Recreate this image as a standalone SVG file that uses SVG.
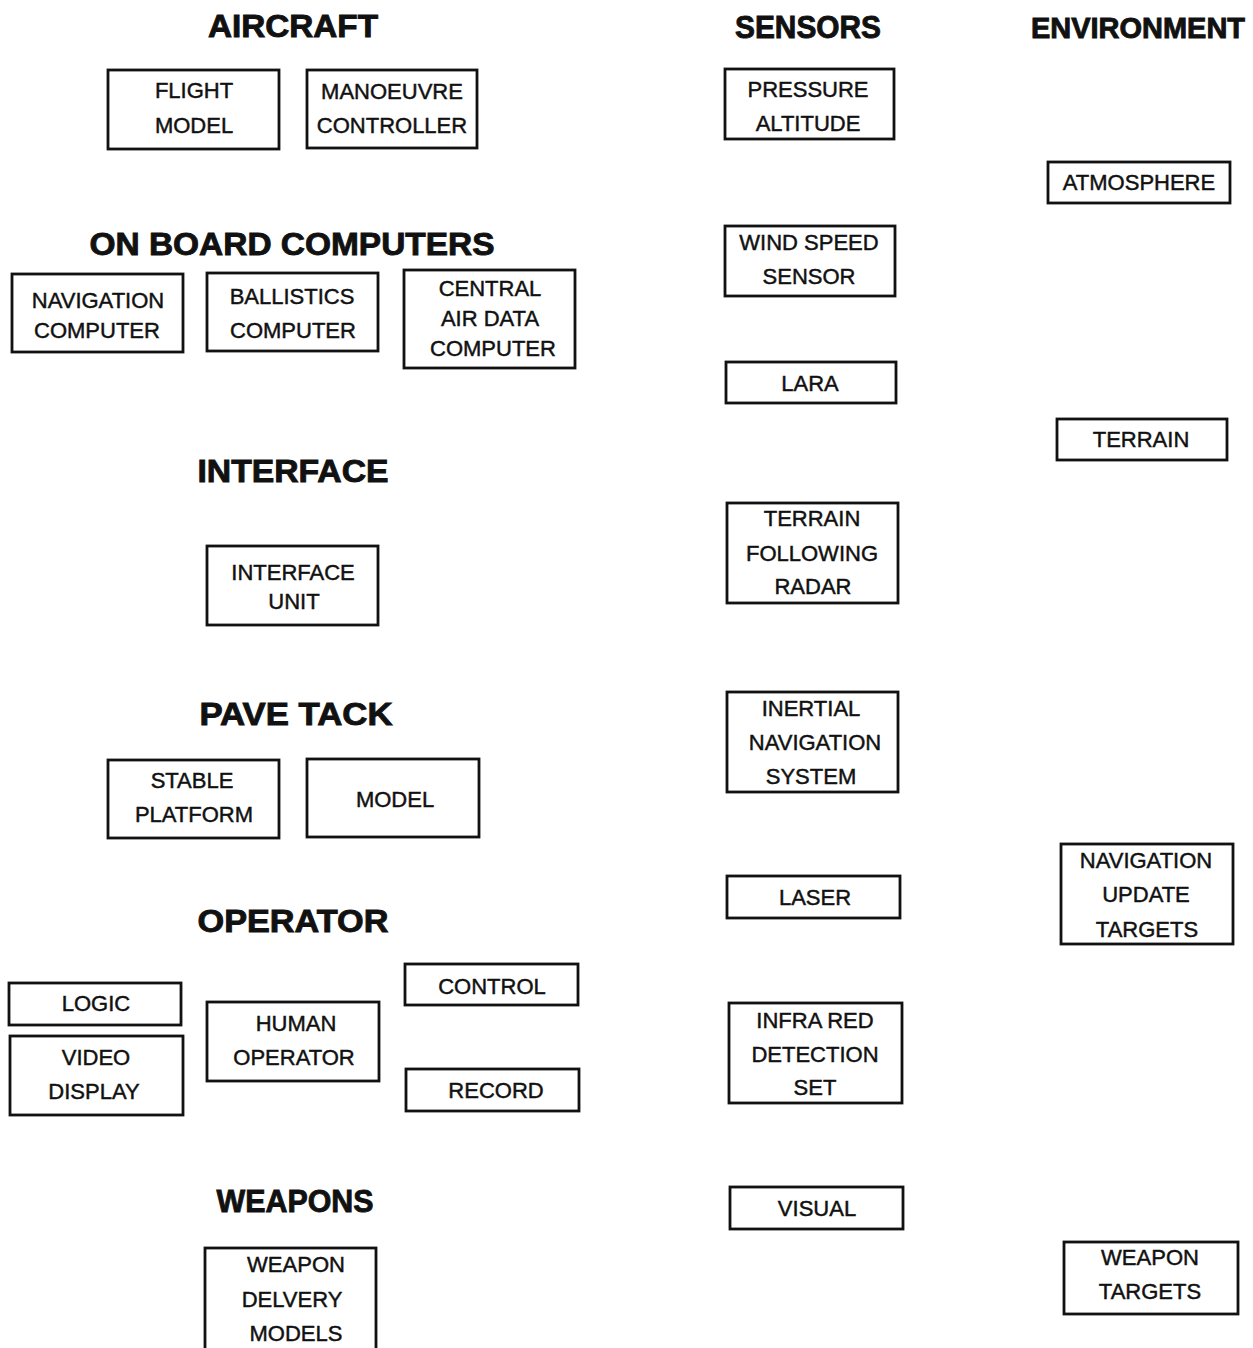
<svg xmlns="http://www.w3.org/2000/svg" width="1253" height="1348" viewBox="0 0 1253 1348">
  <style>
    .box { fill: #ffffff; stroke: #111111; stroke-width: 2.8; }
    .lbl { font-family: "Liberation Sans", Arial, sans-serif; font-size: 22px; fill: #111111; stroke: #111111; stroke-width: 0.45; text-anchor: middle; }
    .ttl { font-family: "Liberation Sans", Arial, sans-serif; font-size: 32px; font-weight: bold; fill: #111111; stroke: #111111; stroke-width: 0.9; text-anchor: middle; }
  </style>
  <rect x="0" y="0" width="1253" height="1348" fill="#ffffff"/>

  <!-- section headings -->
  <g id="headings">
    <text class="ttl" x="293" y="37" textLength="170" lengthAdjust="spacingAndGlyphs">AIRCRAFT</text>
    <text class="ttl" x="808" y="38" textLength="146" lengthAdjust="spacingAndGlyphs">SENSORS</text>
    <text class="ttl" x="1138" y="38" style="font-size:29px" textLength="214" lengthAdjust="spacingAndGlyphs">ENVIRONMENT</text>
    <text class="ttl" x="292" y="255" textLength="405" lengthAdjust="spacingAndGlyphs">ON BOARD COMPUTERS</text>
    <text class="ttl" x="293" y="482" textLength="191" lengthAdjust="spacingAndGlyphs">INTERFACE</text>
    <text class="ttl" x="296" y="725" textLength="193" lengthAdjust="spacingAndGlyphs">PAVE TACK</text>
    <text class="ttl" x="293" y="932" textLength="191" lengthAdjust="spacingAndGlyphs">OPERATOR</text>
    <text class="ttl" x="295" y="1212" textLength="157" lengthAdjust="spacingAndGlyphs">WEAPONS</text>
  </g>

  <!-- aircraft -->
  <g id="flight-model">
    <rect class="box" x="108" y="70" width="171" height="79"/>
    <text class="lbl" x="194" y="98">FLIGHT</text>
    <text class="lbl" x="194" y="133">MODEL</text>
  </g>
  <g id="manoeuvre-controller">
    <rect class="box" x="307" y="70" width="170" height="78"/>
    <text class="lbl" x="392" y="99">MANOEUVRE</text>
    <text class="lbl" x="392" y="133">CONTROLLER</text>
  </g>

  <!-- on board computers -->
  <g id="navigation-computer">
    <rect class="box" x="12" y="274" width="171" height="78"/>
    <text class="lbl" x="98" y="308">NAVIGATION</text>
    <text class="lbl" x="97" y="338">COMPUTER</text>
  </g>
  <g id="ballistics-computer">
    <rect class="box" x="207" y="273" width="171" height="78"/>
    <text class="lbl" x="292" y="304">BALLISTICS</text>
    <text class="lbl" x="293" y="338">COMPUTER</text>
  </g>
  <g id="central-air-data-computer">
    <rect class="box" x="404" y="270" width="171" height="98"/>
    <text class="lbl" x="490" y="296">CENTRAL</text>
    <text class="lbl" x="490" y="326">AIR DATA</text>
    <text class="lbl" x="493" y="356">COMPUTER</text>
  </g>

  <!-- interface -->
  <g id="interface-unit">
    <rect class="box" x="207" y="546" width="171" height="79"/>
    <text class="lbl" x="293" y="580">INTERFACE</text>
    <text class="lbl" x="294" y="609">UNIT</text>
  </g>

  <!-- pave tack -->
  <g id="stable-platform">
    <rect class="box" x="108" y="760" width="171" height="78"/>
    <text class="lbl" x="192" y="788">STABLE</text>
    <text class="lbl" x="194" y="822">PLATFORM</text>
  </g>
  <g id="pave-tack-model">
    <rect class="box" x="307" y="759" width="172" height="78"/>
    <text class="lbl" x="395" y="807">MODEL</text>
  </g>

  <!-- operator -->
  <g id="logic">
    <rect class="box" x="9" y="983" width="172" height="42"/>
    <text class="lbl" x="96" y="1011">LOGIC</text>
  </g>
  <g id="video-display">
    <rect class="box" x="10" y="1036" width="173" height="79"/>
    <text class="lbl" x="96" y="1065">VIDEO</text>
    <text class="lbl" x="94" y="1099">DISPLAY</text>
  </g>
  <g id="human-operator">
    <rect class="box" x="207" y="1002" width="172" height="79"/>
    <text class="lbl" x="296" y="1031">HUMAN</text>
    <text class="lbl" x="294" y="1065">OPERATOR</text>
  </g>
  <g id="control">
    <rect class="box" x="405" y="964" width="173" height="41"/>
    <text class="lbl" x="492" y="994">CONTROL</text>
  </g>
  <g id="record">
    <rect class="box" x="406" y="1069" width="173" height="42"/>
    <text class="lbl" x="496" y="1098">RECORD</text>
  </g>

  <!-- weapons -->
  <g id="weapon-delivery-models">
    <rect class="box" x="205" y="1248" width="171" height="104"/>
    <text class="lbl" x="296" y="1272">WEAPON</text>
    <text class="lbl" x="292" y="1307">DELVERY</text>
    <text class="lbl" x="296" y="1341">MODELS</text>
  </g>

  <!-- sensors -->
  <g id="pressure-altitude">
    <rect class="box" x="725" y="69" width="169" height="70"/>
    <text class="lbl" x="808" y="97">PRESSURE</text>
    <text class="lbl" x="808" y="131">ALTITUDE</text>
  </g>
  <g id="wind-speed-sensor">
    <rect class="box" x="725" y="226" width="170" height="70"/>
    <text class="lbl" x="809" y="250">WIND SPEED</text>
    <text class="lbl" x="809" y="284">SENSOR</text>
  </g>
  <g id="lara">
    <rect class="box" x="726" y="362" width="170" height="41"/>
    <text class="lbl" x="810" y="391">LARA</text>
  </g>
  <g id="terrain-following-radar">
    <rect class="box" x="727" y="503" width="171" height="100"/>
    <text class="lbl" x="812" y="526">TERRAIN</text>
    <text class="lbl" x="812" y="561">FOLLOWING</text>
    <text class="lbl" x="813" y="594">RADAR</text>
  </g>
  <g id="inertial-navigation-system">
    <rect class="box" x="727" y="692" width="171" height="100"/>
    <text class="lbl" x="811" y="716">INERTIAL</text>
    <text class="lbl" x="815" y="750">NAVIGATION</text>
    <text class="lbl" x="811" y="784">SYSTEM</text>
  </g>
  <g id="laser">
    <rect class="box" x="727" y="876" width="173" height="42"/>
    <text class="lbl" x="815" y="905">LASER</text>
  </g>
  <g id="infra-red-detection-set">
    <rect class="box" x="729" y="1003" width="173" height="100"/>
    <text class="lbl" x="815" y="1028">INFRA RED</text>
    <text class="lbl" x="815" y="1062">DETECTION</text>
    <text class="lbl" x="815" y="1095">SET</text>
  </g>
  <g id="visual">
    <rect class="box" x="730" y="1187" width="173" height="42"/>
    <text class="lbl" x="817" y="1216">VISUAL</text>
  </g>

  <!-- environment -->
  <g id="atmosphere">
    <rect class="box" x="1048" y="162" width="182" height="41"/>
    <text class="lbl" x="1139" y="190">ATMOSPHERE</text>
  </g>
  <g id="terrain">
    <rect class="box" x="1057" y="419" width="170" height="41"/>
    <text class="lbl" x="1141" y="447">TERRAIN</text>
  </g>
  <g id="navigation-update-targets">
    <rect class="box" x="1061" y="844" width="172" height="100"/>
    <text class="lbl" x="1146" y="868">NAVIGATION</text>
    <text class="lbl" x="1146" y="902">UPDATE</text>
    <text class="lbl" x="1147" y="937">TARGETS</text>
  </g>
  <g id="weapon-targets">
    <rect class="box" x="1064" y="1242" width="174" height="72"/>
    <text class="lbl" x="1150" y="1265">WEAPON</text>
    <text class="lbl" x="1150" y="1299">TARGETS</text>
  </g>

  <!-- no connectors are drawn between the blocks -->
  <g id="connectors"/>
</svg>
